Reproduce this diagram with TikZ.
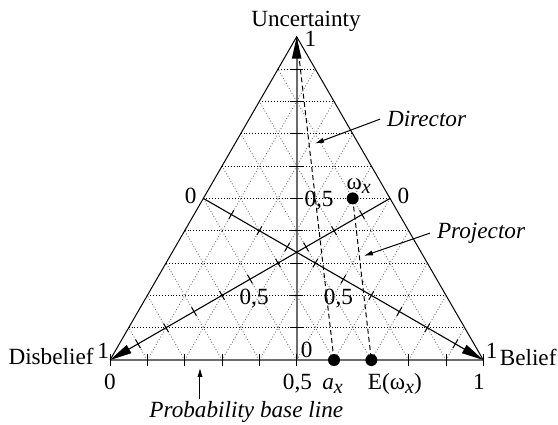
\documentclass[tikz,border=0pt]{standalone}
\usepackage{fontspec}
\setmainfont{Liberation Serif}
\usetikzlibrary{arrows.meta}

\newcommand{\subx}{\raisebox{-0.4ex}{\fontsize{10}{10}\selectfont\itshape x}}

\begin{document}
\begin{tikzpicture}[x=18.667pt,y=18.667pt,
            font=\fontsize{11.6}{14}\selectfont,
            side/.style={line width=0.5pt},
            hgrid/.style={densely dotted,line width=0.45pt},
            dgrid/.style={densely dotted,line width=0.45pt,black!55},
            axis/.style={gray!85!black,line width=1pt},
            oaxis/.style={line width=0.55pt},
            tick/.style={line width=0.5pt},
            bigtip/.style={-{Triangle[length=11pt,width=4.6pt,color=black]}},
            pointer/.style={line width=0.5pt,-{Latex[length=4.5pt,width=2.6pt]}},
            proj/.style={line width=0.5pt,dash pattern=on 2.5pt off 1.6pt},
            dot/.style={circle,fill,inner sep=0pt,minimum size=6pt},
            lbl/.style={anchor=base}]

            \useasboundingbox (-2.947,-1.714) rectangle (12,9.644);

            \coordinate (D) at (0,0);
            \coordinate (B) at (10,0);
            \coordinate (U) at (5,8.66);
            \coordinate (M) at (5,0);
            \coordinate (L) at (2.5,4.33);
            \coordinate (R) at (7.5,4.33);

            \foreach \i in {1,...,9} {
                \draw[dgrid] (\i,0) -- ({(10+\i)/2},{(10-\i)*0.866});
                \draw[dgrid] (\i,0) -- ({\i/2},{\i*0.866});
                \draw[hgrid] ({\i/2},{\i*0.866}) -- ({10-\i/2},{\i*0.866});
            }

            \draw[side] (D) -- (U) -- (B);
            \draw[axis] (D) -- (B);
            \draw[axis,bigtip] (M) -- (U);

            \foreach \i in {0,...,10}
                \draw[tick] (\i,-0.17) -- (\i,0.15);
            \foreach \i in {1,...,9}
                \draw[tick] (4.82,{\i*0.866}) -- (5.18,{\i*0.866});

            \draw[oaxis,bigtip] (L) -- (B);
            \draw[oaxis,bigtip] (R) -- (D);
            \foreach \t in {1,...,9} {
                \draw[tick] ({2.5+0.75*\t-0.065},{4.33-0.433*\t-0.113}) -- ++(0.13,0.226);
                \draw[tick] ({7.5-0.75*\t+0.065},{4.33-0.433*\t-0.113}) -- ++(-0.13,0.226);
            }

            \node[dot] (ax) at (6,0) {};
            \node[dot] (Ew) at (7,0) {};
            \node[dot] (w) at (6.5,4.33) {};
            \draw[proj] (U) -- (ax.center);
            \draw[proj] (w.center) -- (Ew.center);

            \node[lbl] (unc) at (5.25,8.93) {Uncertainty};
            \node[lbl] (u1) at (5.37,8.39) {1};
            \node[lbl] (uhalf) at (5.60,4.11) {0,5};
            \node[lbl] (u0) at (5.27,0.07) {0};
            \node[lbl] (w lbl) at (6.66,4.57) {ω\subx};
            \node[lbl] (l0) at (2.16,4.18) {0};
            \node[lbl] (r0) at (7.86,4.18) {0};
            \node[lbl] (dhalf) at (3.86,1.50) {0,5};
            \node[lbl] (bhalf) at (6.12,1.50) {0,5};

            \node[lbl] (dis) at (-1.58,-0.13) {Disbelief};
            \node[lbl] (d1) at (-0.18,0.03) {1};
            \node[lbl] (b1) at (10.22,0.05) {1};
            \node[lbl] (bel) at (11.2,-0.15) {Belief};

            \node[lbl] (p0) at (0,-0.78) {0};
            \node[lbl] (phalf) at (5.02,-0.78) {0,5};
            \node[lbl] (ax lbl) at (5.96,-0.78) {\textit{a}\subx};
            \node[lbl] (Ew lbl) at (7.63,-0.78) {E(ω\subx)};
            \node[lbl] (p1) at (9.88,-0.78) {1};

            \node[lbl] (director) at (8.48,6.25) {\textit{Director}};
            \node[lbl] (projector) at (9.94,3.26) {\textit{Projector}};
            \node[lbl,inner sep=1pt] (baseline) at (3.65,-1.535) {\textit{Probability base line}};

            \coordinate (dirtip) at (5.49,5.80);
            \coordinate (projtip) at (6.80,2.79);
            \coordinate (basetip) at (2.41,-0.21);
            \draw[pointer] (director.west) -- (dirtip);
            \draw[pointer] (projector.west) -- (projtip);
            \draw[pointer] (baseline.north -| basetip) -- (basetip);
        \end{tikzpicture}
\end{document}
